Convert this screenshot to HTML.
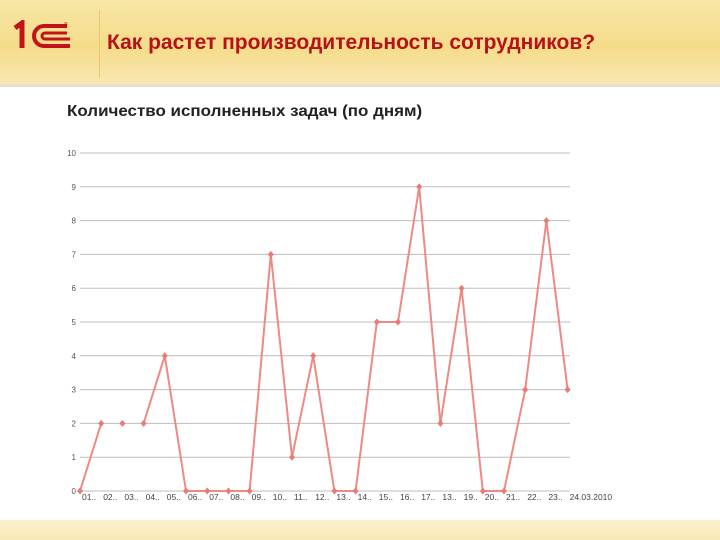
<!DOCTYPE html>
<html><head><meta charset="utf-8"><style>
body{margin:0;width:720px;height:540px;position:relative;overflow:hidden;background:#fff;font-family:"Liberation Sans",sans-serif}
#hdr{position:absolute;left:0;top:0;width:720px;height:84px;background:linear-gradient(#f7e7a6,#f5dc8a 55%,#f8e7b0);border-bottom:3px solid #e6e0cc}
#title{position:absolute;left:107px;top:31px;font-size:21px;font-weight:bold;color:#b5121b;white-space:nowrap}
#vline{position:absolute;left:99px;top:10px;width:1px;height:68px;background:#e8c870}
#ctitle{position:absolute;left:67px;top:103px;font-size:16px;font-weight:bold;color:#222;transform:scaleX(1.06);transform-origin:left;white-space:nowrap}
#foot{position:absolute;left:0;top:520px;width:720px;height:20px;background:linear-gradient(#fbf1cc,#f8e9b5)}
</style></head><body>
<div id="hdr"></div>
<svg style="position:absolute;left:12px;top:20px" width="70" height="32">
<path d="M3 8 L10 3 L10 28" stroke="#c0141b" stroke-width="5" fill="none"/>
<path d="M55 6 H32 a10 10 0 0 0 0 20 H58" stroke="#c0141b" stroke-width="4" fill="none"/>
<path d="M55 13 H33 a3 3 0 0 0 0 6 H58" stroke="#c0141b" stroke-width="3" fill="none"/>
<text x="52" y="6" font-size="5" fill="#c0141b">®</text>
</svg>
<div id="vline"></div>
<div id="title">Как растет производительность сотрудников?</div>
<div id="ctitle">Количество исполненных задач (по дням)</div>
<svg id="chart" style="position:absolute;left:0;top:0" width="720" height="540"></svg>
<div id="foot"></div>
<script>
const categories=["01..","02..","03..","04..","05..","06..","07..","08..","09..","10..","11..","12..","13..","14..","15..","16..","17..","13..","19..","20..","21..","22..","23..","24.03.2010"];
const values=[0,2,2,2,4,0,0,0,0,7,1,4,0,0,5,5,9,2,6,0,0,3,8,3];
const yTicks=[0,1,2,3,4,5,6,7,8,9,10];
const gapAfter=[1,2];
const NS="http://www.w3.org/2000/svg";
const svg=document.getElementById('chart');
const x0=80,step=21.2,y0=491,yTop=153,yMax=10;
const xs=i=>x0+i*step;
const ys=v=>y0-(y0-yTop)*v/yMax;
function mk(t,a){const e=document.createElementNS(NS,t);for(const k in a)e.setAttribute(k,a[k]);svg.appendChild(e);return e;}
yTicks.forEach(t=>{
 const l=mk('line',{x1:x0,x2:570,y1:ys(t),y2:ys(t),stroke:'#bdbdbd','stroke-width':1});
 
 
 const tx=mk('text',{x:x0-4,y:ys(t)+3,'font-size':8,fill:'#555','text-anchor':'end'});
 tx.textContent=t;
 
 
});
categories.forEach((c,i)=>{
 const tx=mk('text',{x:xs(i)+2,y:500,'font-size':8.5,fill:'#444'});
 tx.textContent=c;
 
 
});
for(let i=0;i<values.length-1;i++){
 if(gapAfter.includes(i))continue;
 const l=mk('line',{x1:xs(i),y1:ys(values[i]),x2:xs(i+1),y2:ys(values[i+1]),stroke:'#ee8a84','stroke-width':2});
 
 
}
values.forEach((v,i)=>{
 const p=mk('path',{d:`M${xs(i)} ${ys(v)-3.5}L${xs(i)+3} ${ys(v)}L${xs(i)} ${ys(v)+3.5}L${xs(i)-3} ${ys(v)}Z`,fill:'#e97b75'});
 
 
});
</script>
</body></html>
